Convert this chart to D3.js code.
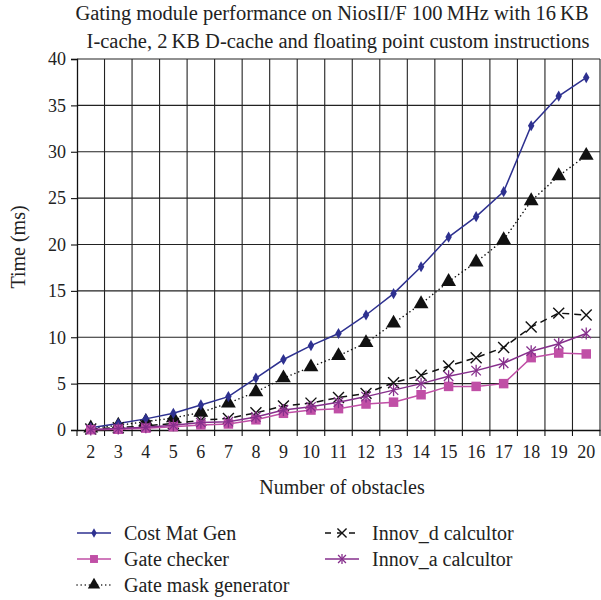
<!DOCTYPE html>
<html>
<head>
<meta charset="utf-8">
<script src="https://cdn.jsdelivr.net/npm/d3@7"></script>
<style>
  body { margin: 0; background: #fff; }
  svg text { font-family: "Liberation Serif", serif; fill: #222; }
</style>
</head>
<body>
<svg id="chart" width="601" height="600"></svg>
<script>
// Data
const obstacles = [2, 3, 4, 5, 6, 7, 8, 9, 10, 11, 12, 13, 14, 15, 16, 17, 18, 19, 20];
const costMatGen = [0.25, 0.7, 1.2, 1.8, 2.7, 3.6, 5.6, 7.6, 9.1, 10.4, 12.4, 14.7, 17.6, 20.8, 23.0, 25.7, 32.8, 36.0, 38.0];
const gateChecker = [0.03, 0.08, 0.2, 0.35, 0.55, 0.65, 1.1, 1.8, 2.15, 2.3, 2.8, 3.0, 3.8, 4.7, 4.7, 5.0, 7.8, 8.3, 8.2];
const gateMask = [0.2, 0.5, 0.9, 1.3, 1.9, 2.9, 4.1, 5.6, 6.8, 8.0, 9.4, 11.5, 13.6, 16.0, 18.1, 20.5, 24.7, 27.4, 29.6];
const innovD = [0.1, 0.25, 0.45, 0.7, 1.05, 1.25, 1.85, 2.6, 2.9, 3.5, 3.95, 5.1, 5.9, 6.9, 7.8, 8.9, 11.1, 12.6, 12.4];
const innovA = [0.05, 0.15, 0.3, 0.5, 0.8, 0.9, 1.4, 2.15, 2.5, 3.0, 3.6, 4.3, 5.0, 5.8, 6.4, 7.2, 8.5, 9.3, 10.4];
const yTicks = [0, 5, 10, 15, 20, 25, 30, 35, 40];

const series = [
  { name: "Cost Mat Gen", values: costMatGen, color: "#2e3190", dash: null, marker: "diamond" },
  { name: "Gate checker", values: gateChecker, color: "#c04fa6", dash: null, marker: "square" },
  { name: "Gate mask generator", values: gateMask, color: "#111", dash: "dot", marker: "triangle" },
  { name: "Innov_d calcultor", values: innovD, color: "#111", dash: "7,5", marker: "cross" },
  { name: "Innov_a calcultor", values: innovA, color: "#862f8c", dash: null, marker: "star" }
];

const svg = d3.select("#chart");
const mLeft = 77, mRight = 600, mTop = 59, mBottom = 430;

const x = d3.scaleBand().domain(obstacles).range([mLeft, mRight]);
const y = d3.scaleLinear().domain([0, 40]).range([mBottom, mTop]);

// Title
const title = svg.append("text").attr("text-anchor", "middle").style("font-size", "20.5px");
title.append("tspan").attr("x", 332).attr("y", 20).text("Gating module performance on NiosII/F 100\u2009MHz with 16\u2009KB");
title.append("tspan").attr("x", 338).attr("y", 48).text("I-cache, 2\u2009KB D-cache and floating point custom instructions");

// Grid
const grid = svg.append("g").attr("stroke", "#222").attr("stroke-width", 1.1);
grid.selectAll(".v").data(d3.range(1, obstacles.length + 1))
  .join("line")
  .attr("x1", i => mLeft + i * x.bandwidth())
  .attr("x2", i => mLeft + i * x.bandwidth())
  .attr("y1", mTop).attr("y2", mBottom);
grid.selectAll(".h").data(yTicks.slice(1))
  .join("line")
  .attr("x1", mLeft).attr("x2", mRight)
  .attr("y1", d => y(d)).attr("y2", d => y(d));

// Y axis
const yAxis = svg.append("g")
  .attr("transform", `translate(${mLeft},0)`)
  .call(d3.axisLeft(y).tickValues(yTicks).tickSize(6).tickPadding(5));
yAxis.select(".domain").attr("stroke", "#111").attr("stroke-width", 1.3);
yAxis.selectAll(".tick line").attr("stroke", "#111").attr("stroke-width", 1.1);
yAxis.selectAll("text").style("font-size", "18px").style("font-family", "Liberation Serif, serif").attr("fill", "#222");

// X axis
const xAxis = svg.append("g")
  .attr("transform", `translate(0,${mBottom})`)
  .call(d3.axisBottom(x).tickSize(0).tickPadding(15));
xAxis.select(".domain").attr("stroke", "#111").attr("stroke-width", 1.3);
xAxis.selectAll("text").style("font-size", "18px").style("font-family", "Liberation Serif, serif").attr("fill", "#222");
svg.append("g").selectAll("line").data(d3.range(obstacles.length + 1))
  .join("line")
  .attr("x1", i => mLeft + i * x.bandwidth()).attr("x2", i => mLeft + i * x.bandwidth())
  .attr("y1", mBottom).attr("y2", mBottom + 6)
  .attr("stroke", "#111").attr("stroke-width", 1.1);

// Axis titles
svg.append("text").attr("text-anchor", "middle")
  .attr("transform", "translate(25,247) rotate(-90)")
  .style("font-size", "20px").text("Time (ms)");
svg.append("text").attr("text-anchor", "middle")
  .attr("x", 342).attr("y", 494)
  .style("font-size", "20px").text("Number of obstacles");

// Markers
function drawMarker(g, type, color, size) {
  const s = size || 1;
  if (type === "diamond") {
    g.append("path").attr("d", d3.symbol(d3.symbolDiamond, 36 * s)()).attr("fill", color);
  } else if (type === "square") {
    g.append("path").attr("d", d3.symbol(d3.symbolSquare, 90 * s)()).attr("fill", color);
  } else if (type === "triangle") {
    g.append("path").attr("d", d3.symbol(d3.symbolTriangle, 95 * s)()).attr("fill", color);
  } else if (type === "cross") {
    g.append("path").attr("d", d3.symbol(d3.symbolTimes, 80 * s)()).attr("fill", "none")
      .attr("stroke", color).attr("stroke-width", 1.4);
  } else if (type === "star") {
    g.append("path").attr("d", d3.symbol(d3.symbolTimes, 60 * s)()).attr("fill", "none")
      .attr("stroke", color).attr("stroke-width", 1.3);
    g.append("line").attr("x1", 0).attr("x2", 0)
      .attr("y1", -6 * Math.sqrt(s)).attr("y2", 6 * Math.sqrt(s))
      .attr("stroke", color).attr("stroke-width", 1.3);
  }
}

const line = d3.line()
  .x((d, i) => x(obstacles[i]) + x.bandwidth() / 2)
  .y(d => y(d));

// Draw order: top series first, lower ones over them
const drawOrder = [2, 0, 3, 1, 4];
drawOrder.forEach(k => {
  const s = series[k];
  const g = svg.append("g");
  const isDot = s.dash === "dot";
  g.append("path").datum(s.values)
    .attr("d", line)
    .attr("fill", "none")
    .attr("stroke", s.color)
    .attr("stroke-width", 1.5)
    .attr("stroke-dasharray", isDot ? "0.1,4" : s.dash)
    .attr("stroke-linecap", isDot ? "round" : "butt");
  s.values.forEach((v, i) => {
    const m = g.append("g")
      .attr("transform", `translate(${x(obstacles[i]) + x.bandwidth() / 2},${y(v)})`);
    drawMarker(m, s.marker, s.color);
  });
});

// Legend
const legendPos = [
  { x: 77, y: 533 }, { x: 77, y: 559 }, { x: 77, y: 585 },
  { x: 325, y: 533 }, { x: 325, y: 559 }
];
series.forEach((s, k) => {
  const p = legendPos[k];
  const g = svg.append("g");
  const isDot = s.dash === "dot";
  g.append("line")
    .attr("x1", p.x).attr("x2", p.x + 34)
    .attr("y1", p.y).attr("y2", p.y)
    .attr("stroke", s.color)
    .attr("stroke-width", 1.5)
    .attr("stroke-linecap", isDot ? "round" : "butt")
    .attr("stroke-dasharray", isDot ? "0.1,4" : (s.dash ? "6,6" : null));
  const m = g.append("g").attr("transform", `translate(${p.x + 17},${p.y})`);
  drawMarker(m, s.marker, s.color, 0.7);
  g.append("text")
    .attr("x", p.x + 47).attr("y", p.y + 7)
    .style("font-size", "20px")
    .text(s.name);
});
</script>
</body>
</html>
